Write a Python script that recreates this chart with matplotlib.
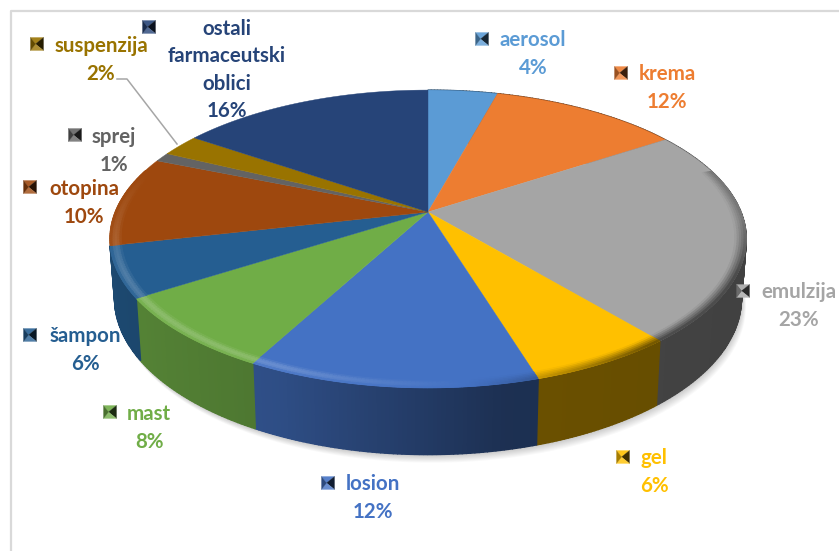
import numpy as np
import matplotlib
matplotlib.use('Agg')
import matplotlib.pyplot as plt
from matplotlib.colors import to_rgb

names = ['aerosol', 'krema', 'emulzija', 'gel', 'losion', 'mast', 'šampon',
         'otopina', 'sprej', 'suspenzija', 'ostali\nfarmaceutski\noblici']
percent_labels = ['4%', '12%', '23%', '6%', '12%', '8%', '6%', '10%', '1%', '2%', '16%']
# slice sizes (labels are rounded)
values = [4.2, 11.5, 23.3, 6.3, 12.5, 8.1, 5.5, 9.8, 1.0, 2.4, 15.4]

colors = ['#5B9BD5', '#ED7D31', '#A5A5A5', '#FFC000', '#4472C4', '#70AD47',
          '#255E91', '#9E480E', '#636363', '#997300', '#264478']

# label centre and legend key centre, in pixels
label_pos = [(533, 54), (667, 88), (799, 306), (654, 472), (373, 498),
             (149, 428), (85, 350), (84, 203), (114, 151), (101, 60), (227, 70)]
key_pos = [(482, 39), (621, 73), (743, 291), (623, 457), (328, 483),
           (110, 412), (30, 335), (30, 187), (75, 135), (37, 44), (149, 27)]

# perspective of the disc
CX, CY = 428, 212
A, B, K = 144, 313, 0.181
DEPTH = 58


def project(theta, r=1.0, bottom=False):
    x = r * np.sin(theta)
    y = r * np.cos(theta)
    den = 1 + K * y
    sx = B * x / den
    sy = -A * y / den
    if bottom:
        return CX + 0.985 * sx, CY + 1.05 * sy + DEPTH
    return CX + sx, CY + sy


def mix(c, other, t):
    return tuple((1 - t) * a + t * b for a, b in zip(c, other))


def side_factor(x):
    return np.interp(x, [-1, -0.4, 0.2, 1], [0.78, 0.68, 0.42, 0.39])


fig = plt.figure(figsize=(8.39, 5.51), dpi=100)
ax = fig.add_axes([0, 0, 1, 1])
ax.set_xlim(0, 839)
ax.set_ylim(551, 0)
ax.axis('off')

# chart frame
ax.plot([10.5, 10.5, 839], [551, 11, 11], color='#D9D9D9', lw=1.6, zorder=1)

# soft shadow under the pie
t_all = np.linspace(np.pi * 0.45, np.pi * 1.42, 200)
bx, by = project(t_all, bottom=True)
for i in range(10):
    ax.fill(bx + i * 0.5, by + i * 0.9, color='black', alpha=0.022, lw=0, zorder=2)

edges = np.cumsum([0] + values) / sum(values) * 2 * np.pi

# side wall, slices after sampon sit behind the silhouette so they get none
for i, col in enumerate(colors[:7]):
    base = to_rgb(col)
    ts = np.linspace(edges[i], edges[i + 1], max(int((edges[i + 1] - edges[i]) * 90), 3))
    for t0, t1 in zip(ts[:-1], ts[1:]):
        x0, y0 = project(t0)
        x1, y1 = project(t1)
        x2, y2 = project(t1, bottom=True)
        x3, y3 = project(t0, bottom=True)
        c = tuple(v * side_factor(np.sin((t0 + t1) / 2)) for v in base)
        ax.fill([x0, x1, x2, x3], [y0, y1, y2, y3], color=c, lw=1.0, zorder=3)

# top faces
for i, col in enumerate(colors):
    ts = np.linspace(edges[i], edges[i + 1], 80)
    x, y = project(ts)
    ax.fill(np.r_[CX, x], np.r_[CY, y], color=col, lw=0.3, zorder=4)

# rounded rim on the front half of the top
rim = np.linspace(0.965, 1.0, 6)
for i, col in enumerate(colors):
    base = to_rgb(col)
    ts = np.linspace(edges[i], edges[i + 1], max(int((edges[i + 1] - edges[i]) * 90), 3))
    for t0, t1 in zip(ts[:-1], ts[1:]):
        tm = (t0 + t1) / 2
        front = np.clip((0.3 - np.cos(tm)) / 0.7, 0, 1)
        if front <= 0:
            continue
        light = np.clip(-2 * np.sin(tm) + 0.2, -1, 1)
        for j, (r0, r1) in enumerate(zip(rim[:-1], rim[1:])):
            p = (j + 0.5) / (len(rim) - 1)
            s = np.sin(np.pi * p) * front
            if light > 0:
                c = mix(base, (1, 1, 1), 0.2 * light * s)
            else:
                c = mix(base, (0, 0, 0), 0.6 * p * -light * max(front, 0.5))
            x0, y0 = project(t0, r0)
            x1, y1 = project(t1, r0)
            x2, y2 = project(t1, r1)
            x3, y3 = project(t0, r1)
            ax.fill([x0, x1, x2, x3], [y0, y1, y2, y3], color=c, lw=0.6, zorder=5)

# leader line of suspenzija
ax.plot([117, 127, 177], [79, 79, 144], color='#A6A6A6', lw=1.1, zorder=6)

# labels
for name, pct, col, pos in zip(names, percent_labels, colors, label_pos):
    ax.text(pos[0], pos[1], name + '\n' + pct, color=col, ha='center', va='center',
            fontsize=14.8, family='Lato', fontweight='bold', linespacing=1.46, zorder=7)

# legend keys, little pyramids
for col, (kx, ky) in zip(colors, key_pos):
    base = to_rgb(col)
    h = 6.5
    cx0, cy0 = kx - 1.5, ky
    tl, tr = (kx - h, ky - h), (kx + h, ky - h)
    br, bl = (kx + h, ky + h), (kx - h, ky + h)
    faces = [(tl, tr, mix(base, (1, 1, 1), 0.1)),
             (tr, br, mix(base, (0, 0, 0), 0.75)),
             (br, bl, mix(base, (1, 1, 1), 0.2)),
             (bl, tl, mix(base, (0, 0, 0), 0.35))]
    for p0, p1, c in faces:
        ax.fill([p0[0], p1[0], cx0], [p0[1], p1[1], cy0], color=c, lw=0.2, zorder=8)

fig.savefig('out.png', dpi=100)
